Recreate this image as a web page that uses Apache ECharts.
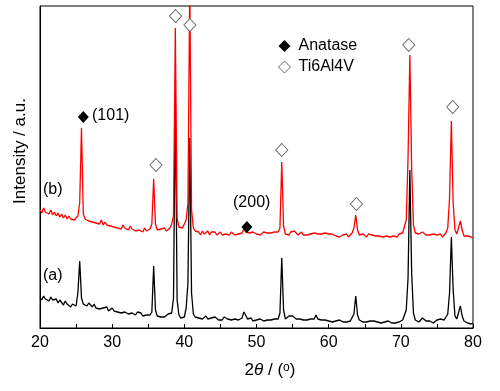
<!DOCTYPE html>
<html>
<head>
<meta charset="utf-8">
<script src="https://cdn.jsdelivr.net/npm/echarts@6/dist/echarts.min.js"></script>
<style>html,body{margin:0;padding:0;background:#fff}#c{width:500px;height:391px}</style>
</head>
<body>
<div id="c"></div>
<script>
// 2θ scan: start and step (degrees)
const scanStart = 20;
const scanStep = 0.25;
const xTicks = [20, 30, 40, 50, 60, 70, 80];

// (a) intensity (arbitrary units), one value per scan step
const intensityA = [
  31,28,32,29, 30,27,31,28, 27,29,25,28, 26,23,27,24, 25,21,24,22,
  22,35,67,30, 24,26,22,25, 23,21,24,20, 22,19,21,20, 18,21,17,19,
  20,17,19,16, 18,15,17,16, 17,14,16,15, 15,13,16,14, 15,12,14,13,
  14,13,16,62, 18,12,13,11, 13,11,12,14, 12,15,30,236, 28,13,10,12,
  11,20,45,190, 35,14,11,12, 10,12,9,11, 12,9,11,10, 9,11,10,8,
  10,8,11,9, 9,10,8,10, 9,11,8,9, 10,16,13,9, 8,10,7,9,
  8,7,9,8, 7,9,8,7, 8,7,9,8, 9,15,70,18, 9,11,12,11,
  12,11,9,8, 9,7,8,7, 8,7,9,8, 9,13,9,7, 8,7,8,6,
  7,8,6,7, 7,6,8,6, 6,7,6,8, 7,9,14,32, 13,8,7,6,
  7,6,5,7, 6,7,5,6, 6,5,7,6, 5,7,6,5, 6,5,7,6,
  7,8,10,18, 50,158,55,15, 8,7,6,7, 10,9,7,6, 7,6,5,7,
  8,6,9,7, 8,10,14,35, 91,38,12,9, 10,22,12,7, 6,5,6,4,
  5
];

// (b) intensity (arbitrary units, offset), one value per scan step
const intensityB = [
  118,115,120,116, 117,114,118,113, 116,112,115,111, 114,110,113,109, 112,109,111,108,
  110,112,125,200, 114,109,110,107, 109,106,108,105, 107,104,108,103, 106,103,105,102,
  104,101,103,100, 102,99,103,100, 101,98,102,99, 100,97,99,98, 99,96,100,97,
  98,99,104,149, 104,98,97,99, 98,100,97,99, 100,104,112,300, 110,101,99,100,
  101,108,125,345, 118,100,97,95, 96,93,97,94, 95,97,93,96, 94,96,93,95,
  96,93,95,94, 95,93,96,94, 93,95,94,96, 95,99,96,94, 95,93,96,94,
  94,96,93,95, 96,94,95,93, 95,93,96,94, 96,100,166,102, 94,95,93,96,
  94,97,95,93, 94,96,93,95, 93,95,94,93, 95,97,94,93, 94,92,95,93,
  94,92,94,93, 92,94,91,93, 93,92,94,91, 93,95,100,113, 98,93,92,94,
  93,91,94,92, 93,91,92,94, 92,93,91,93, 92,94,91,93, 92,93,91,94,
  93,95,97,108, 170,273,160,103, 95,93,94,92, 96,95,93,92, 93,91,94,92,
  93,92,94,91, 93,95,100,130, 207,125,98,94, 96,107,98,92, 91,92,90,91,
  90
];

// marker positions
const anataseTheta = [26.0, 48.67];
const anataseY = [211, 101];
const ti64Theta = [38.79, 40.77, 36.07, 53.5, 63.85, 71.1, 77.2];
const ti64Y = [312, 303, 163, 178, 124, 283, 221];

const FONT = '"Liberation Sans", Arial, sans-serif';
const toPairs = arr => arr.map((v, i) => [scanStart + i * scanStep, v]);
const zip = (a, b) => a.map((v, i) => [v, b[i]]);

const chart = echarts.init(document.getElementById('c'), null, {renderer: 'canvas'});
chart.setOption({
  animation: false,
  backgroundColor: '#fff',
  grid: {left: 40, right: 27, top: 6, bottom: 63, show: true, borderColor: '#000', borderWidth: 1, backgroundColor: 'transparent'},
  xAxis: {
    type: 'value', min: xTicks[0], max: xTicks[xTicks.length - 1], interval: 5,
    axisLine: {show: true, lineStyle: {color: '#000', width: 1}},
    axisTick: {show: true, inside: true, length: 4, lineStyle: {color: '#000'}},
    axisLabel: {
      color: '#000', fontFamily: FONT, fontSize: 16, margin: 7,
      formatter: v => (xTicks.indexOf(v) >= 0 ? String(v) : '')
    },
    splitLine: {show: false}
  },
  yAxis: {
    type: 'value', min: 0, max: 322,
    axisLine: {show: true, lineStyle: {color: '#000'}},
    axisTick: {show: false}, axisLabel: {show: false}, splitLine: {show: false}
  },
  legend: {
    orient: 'vertical', left: 273, top: 33, itemWidth: 12, itemHeight: 12, itemGap: 5,
    selectedMode: false,
    textStyle: {fontFamily: FONT, fontSize: 16, color: '#000', padding: [0, 0, 0, 3]},
    data: [
      {name: 'Anatase'},
      {name: 'Ti6Al4V', itemStyle: {color: '#fff', borderColor: '#666', borderWidth: 1}}
    ]
  },
  series: [
    {name: 'a', type: 'line', data: toPairs(intensityA), showSymbol: false, symbol: 'none',
     lineStyle: {color: '#000', width: 1.3}, itemStyle: {color: '#000'}, z: 2},
    {name: 'b', type: 'line', data: toPairs(intensityB), showSymbol: false, symbol: 'none',
     lineStyle: {color: '#ff0000', width: 1.3}, itemStyle: {color: '#ff0000'}, z: 3},
    {name: 'Anatase', type: 'scatter', symbol: 'diamond', symbolSize: [11, 12],
     data: zip(anataseTheta, anataseY), itemStyle: {color: '#000', opacity: 1}, z: 5},
    {name: 'Ti6Al4V', type: 'scatter', symbol: 'diamond', symbolSize: [12, 13],
     data: zip(ti64Theta, ti64Y), itemStyle: {color: '#fff', borderColor: '#666', borderWidth: 1, opacity: 1}, z: 5}
  ],
  graphic: [
    {type: 'text', left: 92, top: 108, style: {text: '(101)', font: '16px ' + FONT, fill: '#000'}},
    {type: 'text', left: 233, top: 195, style: {text: '(200)', font: '16px ' + FONT, fill: '#000'}},
    {type: 'text', left: 43, top: 182, style: {text: '(b)', font: '16px ' + FONT, fill: '#000'}},
    {type: 'text', left: 43, top: 268, style: {text: '(a)', font: '16px ' + FONT, fill: '#000'}},
    {type: 'text', x: 20, y: 151, rotation: Math.PI / 2,
     style: {text: 'Intensity / a.u.', font: '17px ' + FONT, fill: '#000', align: 'center', verticalAlign: 'middle'}},
    {type: 'text', x: 270, y: 370,
     style: {
       text: '{n|2}{i|θ}{n| / (}{s|o}{n|)}', align: 'center', verticalAlign: 'middle',
       rich: {
         n: {fontFamily: FONT, fontSize: 17, color: '#000'},
         i: {fontFamily: FONT, fontSize: 17, fontStyle: 'italic', color: '#000'},
         s: {fontFamily: FONT, fontSize: 12, color: '#000', verticalAlign: 'top'}
       }
     }}
  ]
});
</script>
</body>
</html>
